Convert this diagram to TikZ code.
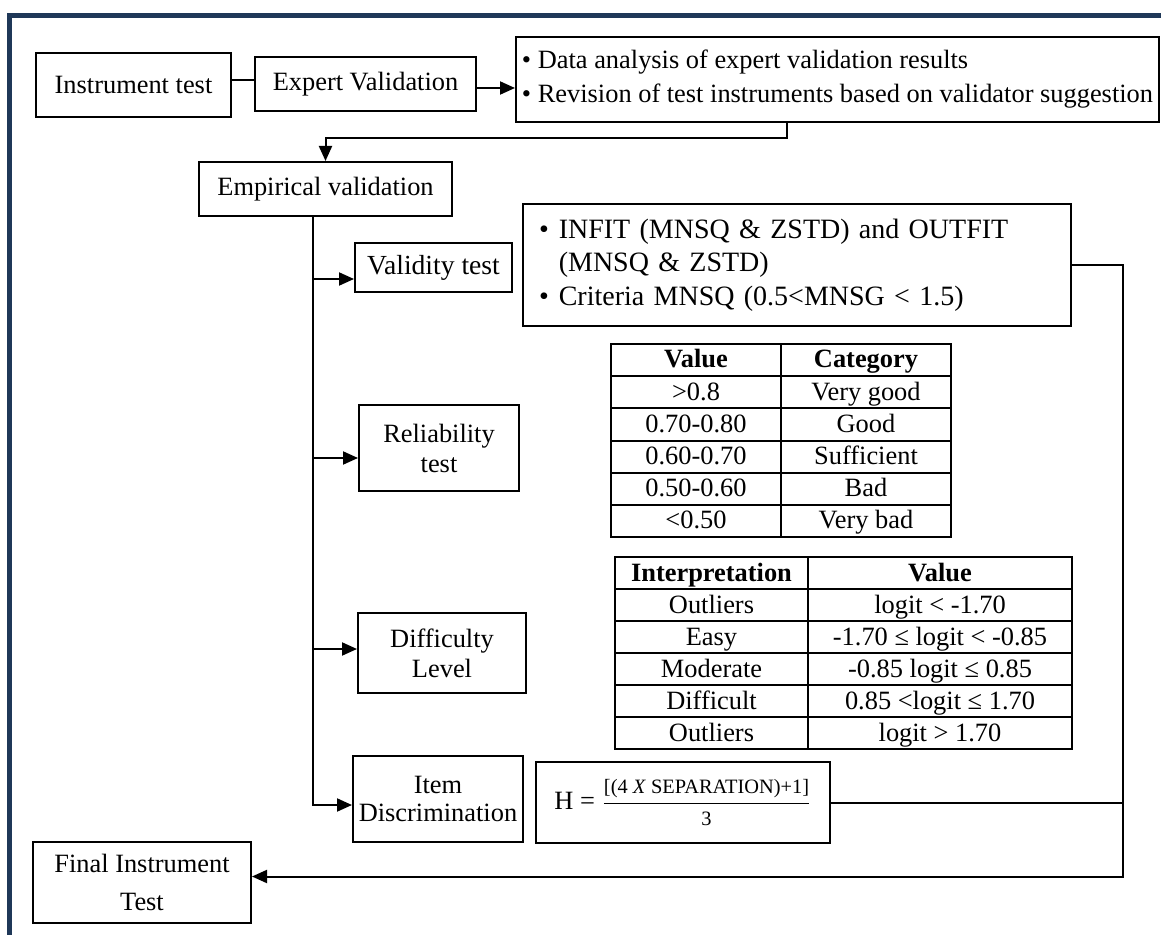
\documentclass[tikz,border=0pt]{standalone}
\usepackage{amsmath}
\usepackage{fontspec}
\setmainfont{Liberation Serif}
\usepackage{tikz}
\usetikzlibrary{calc,arrows.meta}
\definecolor{framecol}{RGB}{31,56,88}

\begin{document}
\begin{tikzpicture}[x=0.5pt,y=-0.5pt,
	font=\fontsize{13.2}{15}\selectfont,
	box/.style={draw,line width=1pt,align=center,inner sep=1.5pt},
	link/.style={line width=1pt},
	arr/.style={line width=1pt,-{Triangle[length=7.5pt,width=6.5pt]}},
	cell/.style={inner sep=0pt,text height=9.5pt,text depth=1.5pt},
	grid/.style={line width=1pt}]
	\useasboundingbox (0,0) rectangle (1161,935);
	
	%frame
	\draw[framecol,line width=2.5pt] (9.5,935) -- (9.5,15.5) -- (1161,15.5);
	
	%nodes
	\node[box,minimum width=97.5pt,minimum height=32pt] (instr) at (133.5,85) {Instrument test};
	\node[box,minimum width=110.5pt,minimum height=27pt] (expert) at (365.5,84) {Expert Validation};
	\node[box,minimum width=321.5pt,minimum height=42.5pt,align=left,inner xsep=1pt,
		font=\fontsize{13.2}{17}\selectfont] (revise) at (837.5,79.5)
		{\textbullet\ Data analysis of expert validation results\\
		 \textbullet\ Revision of test instruments based on validator suggestion};
	\node[box,minimum width=126.5pt,minimum height=27pt] (empir) at (325.5,189) {Empirical validation};
	
	\node[box,minimum width=78.5pt,minimum height=24.5pt,font=\fontsize{13.8}{15}\selectfont] (validity) at (433.5,267.5) {Validity test};
	\node[box,minimum width=274pt,minimum height=61pt,text width=258pt,inner xsep=8pt,align=left,
		font=\fontsize{14}{16.75}\selectfont] (infit) at (797,265)
		{\begin{tabular}{@{}l@{\hspace{5pt}}l@{}}
			\textbullet & INFIT (MNSQ \& ZSTD) and OUTFIT\\
			& (MNSQ \& ZSTD)\\
			\textbullet & Criteria MNSQ (0.5<MNSG < 1.5)
		\end{tabular}};
	\node[box,minimum width=80pt,minimum height=43pt] (reliab) at (439,448) {Reliability\\test};
	\node[box,minimum width=84pt,minimum height=40pt] (diffic) at (442,653) {Difficulty\\Level};
	\node[box,minimum width=85pt,minimum height=43pt,font=\fontsize{13.2}{14}\selectfont] (item) at (438,799) {Item\\Discrimination};
	\node[box,minimum width=147pt,minimum height=40.5pt] (formula) at (683,802.5)
		{H = $\genfrac{}{}{0.8pt}{0}{\text{\fontsize{10.2}{11}\selectfont [(4 \textit{X} SEPARATION)+1]}}{\text{\fontsize{10.2}{11}\selectfont 3}}$};
	\node[box,minimum width=109pt,minimum height=40.5pt,font=\fontsize{13.2}{19}\selectfont] (final) at (142,882.5) {Final Instrument\\Test};
	
	%table reliability
	\draw[grid] (611,344) rectangle (951,537);
	\foreach \k in {1,...,5} \draw[grid] (611,344+32.17*\k) -- (951,344+32.17*\k);
	\draw[grid] (781,344) -- (781,537);
	\foreach \v/\c [count=\i from 0] in {\textbf{Value}/\textbf{Category},>0.8/Very good,0.70-0.80/Good,0.60-0.70/Sufficient,0.50-0.60/Bad,<0.50/Very bad}{
		\node[cell] (relv\i) at (696,360+32.17*\i) {\v};
		\node[cell] (relc\i) at (866,360+32.17*\i) {\c};
	}
	
	%table difficulty
	\draw[grid] (615,557) rectangle (1072,749);
	\foreach \k in {1,...,5} \draw[grid] (615,557+32*\k) -- (1072,557+32*\k);
	\draw[grid] (808,557) -- (808,749);
	\foreach \c/\v [count=\i from 0] in {\textbf{Interpretation}/\textbf{Value},Outliers/logit < -1.70,Easy/-1.70 ≤ logit < -0.85,Moderate/-0.85 logit ≤ 0.85,Difficult/0.85 <logit ≤ 1.70,Outliers/logit > 1.70}{
		\node[cell] (difc\i) at (711.5,573+32*\i) {\c};
		\node[cell] (difv\i) at (940,573+32*\i) {\v};
	}
	
	%lines
	\coordinate (trunk) at (313,216);
	\coordinate (rside) at (1123,262);
	\coordinate (instrR) at ([yshift=2.5pt]instr.east);
	\coordinate (expertR) at ([yshift=-2pt]expert.east);
	\coordinate (finalR) at ([yshift=3pt]final.east);
	\draw[link] (instrR) -- (instrR -| expert.west);
	\draw[arr] (expertR) -- (expertR -| revise.west);
	\draw[arr] ([xshift=-25.25pt]revise.south) -- ++(0,15) -| (empir.north);
	\draw[arr] (trunk) |- ([yshift=-3pt]item.west);
	\foreach \n/\s in {validity/-5.75pt,reliab/-5pt,diffic/2pt}{
		\coordinate (tip) at ([yshift=\s]\n.west);
		\draw[arr] (trunk |- tip) -- (tip);
	}
	\draw[arr] (infit.east) -| (rside |- finalR) -- (finalR);
	\draw[link] (formula.east) -- (formula.east -| rside);
\end{tikzpicture}
\end{document}
